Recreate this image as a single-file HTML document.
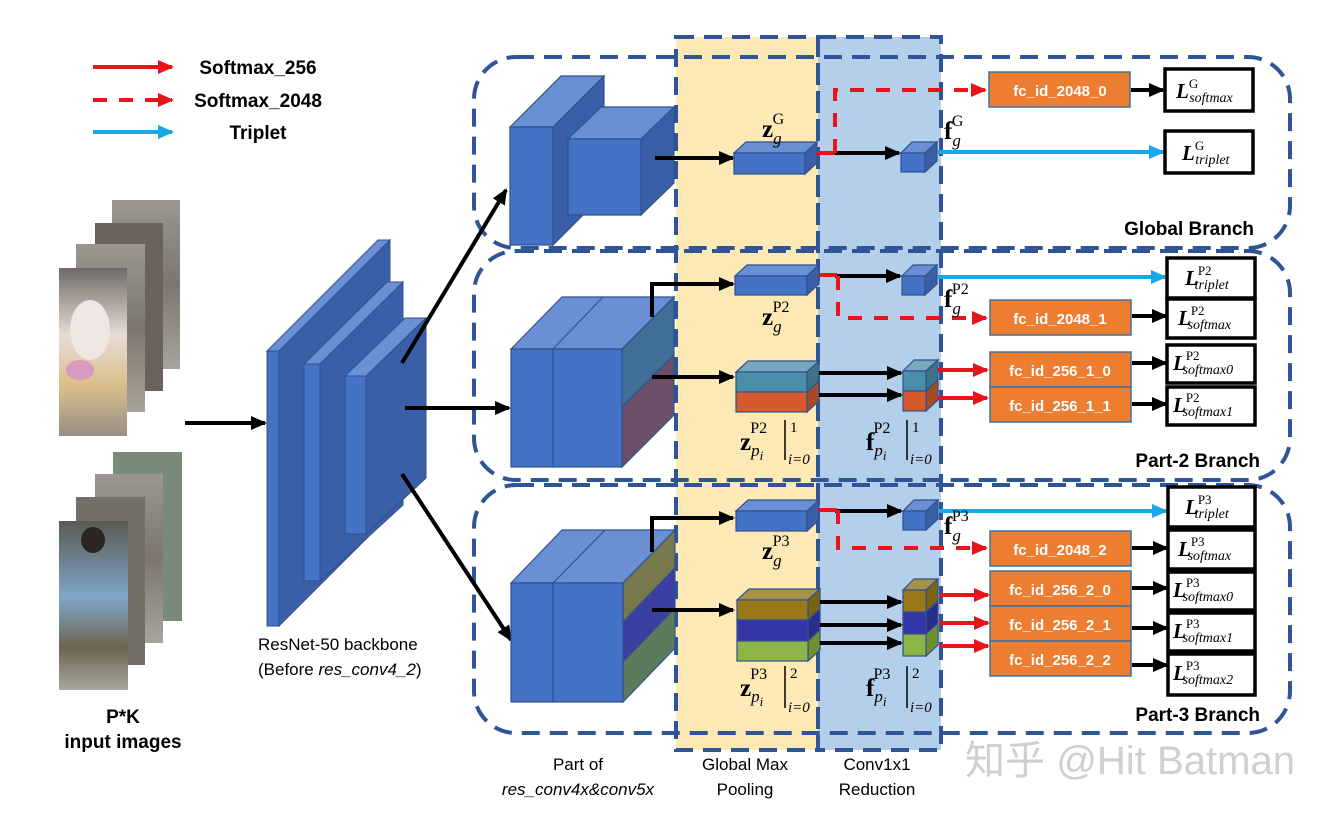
<!DOCTYPE html>
<html><head><meta charset="utf-8"><style>
html,body{margin:0;padding:0;background:#fff;}
svg{display:block;}
text{font-family:"Liberation Sans","Noto Sans CJK SC",sans-serif;}
.m{font-family:"Liberation Serif",serif;}
.lb{font-weight:bold;font-size:19px;fill:#000;}
.fc{font-weight:bold;font-size:15px;fill:#fff;text-anchor:middle;}
</style></head><body>
<svg width="1330" height="814" viewBox="0 0 1330 814" xmlns="http://www.w3.org/2000/svg">
<defs>
<marker id="ak" markerUnits="userSpaceOnUse" markerWidth="16" markerHeight="16" refX="14" refY="8" orient="auto"><path d="M0,1 L16,8 L0,15 z" fill="#000"/></marker>
<marker id="ar" markerUnits="userSpaceOnUse" markerWidth="16" markerHeight="16" refX="14" refY="8" orient="auto"><path d="M0,1 L16,8 L0,15 z" fill="#e8141b"/></marker>
<marker id="ac" markerUnits="userSpaceOnUse" markerWidth="16" markerHeight="16" refX="14" refY="8" orient="auto"><path d="M0,1 L16,8 L0,15 z" fill="#1aa7e6"/></marker>
<linearGradient id="p1" x1="0" y1="0" x2="0" y2="1"><stop offset="0" stop-color="#6e6a66"/><stop offset=".4" stop-color="#e8dcd6"/><stop offset=".7" stop-color="#d9c08a"/><stop offset="1" stop-color="#9a8e86"/></linearGradient>
<linearGradient id="p2" x1="0" y1="0" x2="0" y2="1"><stop offset="0" stop-color="#5a5a50"/><stop offset=".45" stop-color="#7fa6c9"/><stop offset=".75" stop-color="#6d6450"/><stop offset="1" stop-color="#a9a7a0"/></linearGradient>
<linearGradient id="pg" x1="0" y1="0" x2="0" y2="1"><stop offset="0" stop-color="#9b9690"/><stop offset=".5" stop-color="#7d7670"/><stop offset="1" stop-color="#a8a39c"/></linearGradient>
</defs>

<!-- legend -->
<line x1="93" y1="67" x2="172" y2="67" stroke="#e8141b" stroke-width="4" marker-end="url(#ar)"/>
<line x1="93" y1="100" x2="172" y2="100" stroke="#e8141b" stroke-width="4" stroke-dasharray="14 12" marker-end="url(#ar)"/>
<line x1="93" y1="132" x2="172" y2="132" stroke="#1aa7e6" stroke-width="4" marker-end="url(#ac)"/>
<text x="258" y="74" class="lb" text-anchor="middle" font-size="18">Softmax_256</text>
<text x="258" y="107" class="lb" text-anchor="middle" font-size="18">Softmax_2048</text>
<text x="258" y="139" class="lb" text-anchor="middle" font-size="18">Triplet</text>

<!-- photos -->
<rect x="112" y="200" width="68" height="169" fill="url(#pg)"/>
<rect x="95" y="223" width="68" height="168" fill="#6b625c"/>
<rect x="76" y="244" width="69" height="168" fill="url(#pg)"/>
<rect x="59" y="268" width="68" height="168" fill="url(#p1)"/>
<ellipse cx="90" cy="330" rx="20" ry="30" fill="#efe6e4"/>
<ellipse cx="80" cy="370" rx="14" ry="10" fill="#d99cc0"/>
<rect x="113" y="452" width="69" height="169" fill="#7a8a78"/>
<rect x="95" y="474" width="68" height="169" fill="url(#pg)"/>
<rect x="76" y="497" width="69" height="168" fill="#737069"/>
<rect x="59" y="521" width="69" height="169" fill="url(#p2)"/>
<ellipse cx="93" cy="540" rx="12" ry="13" fill="#2a2622"/>

<line x1="185" y1="423" x2="265" y2="423" stroke="#000" stroke-width="4" marker-end="url(#ak)"/>

<!-- backbone -->
<g stroke="#2f528f" stroke-width="1">
<polygon points="279,351 390,240 390,515 279,626" fill="#3a5fa6"/>
<polygon points="267,351 378,240 390,240 279,351" fill="#6a8fd4"/>
<rect x="267" y="351" width="12" height="275" fill="#4472c4"/>
<polygon points="320,364 403,282 403,505 320,581" fill="#3a5fa6"/>
<polygon points="304,364 387,282 403,282 320,364" fill="#6a8fd4"/>
<rect x="304" y="364" width="16" height="217" fill="#4472c4"/>
<polygon points="366,376 426,318 426,478 366,534" fill="#3a5fa6"/>
<polygon points="345,376 405,318 426,318 366,376" fill="#6a8fd4"/>
<rect x="345" y="376" width="21" height="158" fill="#4472c4"/>
</g>
<text x="258" y="650" font-size="17" fill="#000">ResNet-50 backbone</text>
<text x="258" y="675" font-size="17" fill="#000">(Before <tspan font-style="italic">res_conv4_2</tspan>)</text>
<text x="123" y="723" class="lb" font-size="17" text-anchor="middle">P*K</text>
<text x="123" y="748" class="lb" font-size="17" text-anchor="middle">input images</text>

<!-- columns -->
<rect x="676" y="37" width="142" height="713" fill="#fde9b6"/>
<rect x="818" y="37" width="123" height="713" fill="#b4cfea"/>

<!-- branch boxes -->
<g fill="none" stroke="#2f5597" stroke-width="4" stroke-dasharray="18 10">
<rect x="474" y="57" width="816" height="191" rx="42"/>
<rect x="474" y="251" width="816" height="229" rx="42"/>
<rect x="474" y="485" width="816" height="248" rx="42"/>
<rect x="676" y="37" width="142" height="713"/>
<rect x="818" y="37" width="123" height="713"/>
</g>

<!-- arrows from backbone -->
<line x1="402" y1="363" x2="506" y2="190" stroke="#000" stroke-width="4" marker-end="url(#ak)"/>
<line x1="405" y1="408" x2="509" y2="408" stroke="#000" stroke-width="4" marker-end="url(#ak)"/>
<line x1="402" y1="474" x2="511" y2="640" stroke="#000" stroke-width="4" marker-end="url(#ak)"/>

<!-- global blocks -->
<g stroke="#2f528f" stroke-width="1.2">
<polygon points="553,127 604,76 604,194 553,245" fill="#3a5fa6"/>
<polygon points="510,127 561,76 604,76 553,127" fill="#6a8fd4"/>
<rect x="510" y="127" width="43" height="118" fill="#4472c4"/>
<polygon points="641,139 674,107 674,183 641,215" fill="#3a5fa6"/>
<polygon points="568,139 601,107 674,107 641,139" fill="#6a8fd4"/>
<rect x="568" y="139" width="73" height="76" fill="#4472c4"/>
</g>
<line x1="655" y1="158" x2="733" y2="158" stroke="#000" stroke-width="4" marker-end="url(#ak)"/>

<!-- part-2 big block -->
<g stroke="#2f528f" stroke-width="1.2">
<polygon points="511,349 562,297 674,297 622,349" fill="#6a8fd4"/>
<polygon points="622,349 674,297 674,355 622,407" fill="#3f6f96"/>
<polygon points="622,407 674,355 674,415 622,467" fill="#6b4f68"/>
<rect x="511" y="349" width="42" height="118" fill="#4472c4"/>
<rect x="553" y="349" width="69" height="118" fill="#4472c4"/>
<line x1="553" y1="349" x2="603" y2="297"/>
</g>
<polyline points="652,317 652,284 733,284" fill="none" stroke="#000" stroke-width="4" marker-end="url(#ak)"/>
<line x1="652" y1="377" x2="733" y2="377" stroke="#000" stroke-width="4" marker-end="url(#ak)"/>

<!-- part-3 big block -->
<g stroke="#2f528f" stroke-width="1.2">
<polygon points="511,583 562,530 675,530 623,583" fill="#6a8fd4"/>
<polygon points="623,583 675,530 675,568 623,622" fill="#77784c"/>
<polygon points="623,622 675,568 675,608 623,662" fill="#3a3fa0"/>
<polygon points="623,662 675,608 675,648 623,702" fill="#5d7a5c"/>
<rect x="511" y="583" width="42" height="119" fill="#4472c4"/>
<rect x="553" y="583" width="70" height="119" fill="#4472c4"/>
<line x1="553" y1="583" x2="605" y2="530"/>
</g>
<polyline points="652,552 652,518 733,518" fill="none" stroke="#000" stroke-width="4" marker-end="url(#ak)"/>
<line x1="652" y1="610" x2="733" y2="610" stroke="#000" stroke-width="4" marker-end="url(#ak)"/>

<!-- pooled blocks -->
<g stroke="#2f528f" stroke-width="1.2">
<polygon points="734,153 746,142 817,142 805,153" fill="#6a8fd4"/>
<polygon points="805,153 817,142 817,163 805,174" fill="#3a5fa6"/>
<rect x="734" y="153" width="71" height="21" fill="#4472c4"/>
<polygon points="735,276 747,265 819,265 807,276" fill="#6a8fd4"/>
<polygon points="807,276 819,265 819,284 807,295" fill="#3a5fa6"/>
<rect x="735" y="276" width="72" height="19" fill="#4472c4"/>
<polygon points="736,511 748,500 819,500 807,511" fill="#6a8fd4"/>
<polygon points="807,511 819,500 819,520 807,531" fill="#3a5fa6"/>
<rect x="736" y="511" width="71" height="20" fill="#4472c4"/>
<polygon points="736,372 748,361 819,361 807,372" fill="#7aa7bd"/>
<polygon points="807,372 819,361 819,381 807,392" fill="#3e7386"/>
<polygon points="807,392 819,381 819,401 807,412" fill="#a84a22"/>
<rect x="736" y="372" width="71" height="20" fill="#4a8ea8"/>
<rect x="736" y="392" width="71" height="20" fill="#d65a2c"/>
<polygon points="737,600 749,589 820,589 808,600" fill="#a6904a"/>
<polygon points="808,600 820,589 820,609 808,620" fill="#7a6412"/>
<polygon points="808,620 820,609 820,630 808,641" fill="#2c2c8a"/>
<polygon points="808,641 820,630 820,650 808,661" fill="#6e9030"/>
<rect x="737" y="600" width="71" height="20" fill="#9a7a18"/>
<rect x="737" y="620" width="71" height="21" fill="#3535a8"/>
<rect x="737" y="641" width="71" height="20" fill="#8db446"/>
<polygon points="901,153 912,142 937,142 925,153" fill="#6a8fd4"/>
<polygon points="925,153 937,142 937,161 925,172" fill="#3a5fa6"/>
<rect x="901" y="153" width="24" height="19" fill="#4472c4"/>
<polygon points="902,276 913,265 937,265 925,276" fill="#6a8fd4"/>
<polygon points="925,276 937,265 937,284 925,295" fill="#3a5fa6"/>
<rect x="902" y="276" width="23" height="19" fill="#4472c4"/>
<polygon points="903,511 914,500 938,500 926,511" fill="#6a8fd4"/>
<polygon points="926,511 938,500 938,519 926,530" fill="#3a5fa6"/>
<rect x="903" y="511" width="23" height="19" fill="#4472c4"/>
<polygon points="903,371 914,360 938,360 926,371" fill="#7aa7bd"/>
<polygon points="926,371 938,360 938,380 926,391" fill="#3e7386"/>
<polygon points="926,391 938,380 938,400 926,411" fill="#a84a22"/>
<rect x="903" y="371" width="23" height="20" fill="#4a8ea8"/>
<rect x="903" y="391" width="23" height="20" fill="#d65a2c"/>
<polygon points="903,590 914,579 938,579 926,590" fill="#a6904a"/>
<polygon points="926,590 938,579 938,601 926,612" fill="#7a6412"/>
<polygon points="926,612 938,601 938,623 926,634" fill="#2c2c8a"/>
<polygon points="926,634 938,623 938,645 926,656" fill="#6e9030"/>
<rect x="903" y="590" width="23" height="22" fill="#9a7a18"/>
<rect x="903" y="612" width="23" height="22" fill="#3535a8"/>
<rect x="903" y="634" width="23" height="22" fill="#8db446"/>
</g>

<!-- conv arrows -->
<g stroke="#000" stroke-width="4" marker-end="url(#ak)">
<line x1="833" y1="153" x2="899" y2="153"/>
<line x1="835" y1="276" x2="900" y2="276"/>
<line x1="835" y1="511" x2="901" y2="511"/>
<line x1="819" y1="373" x2="901" y2="373"/>
<line x1="819" y1="395" x2="901" y2="395"/>
<line x1="820" y1="602" x2="901" y2="602"/>
<line x1="820" y1="625" x2="901" y2="625"/>
<line x1="820" y1="643" x2="901" y2="643"/>
</g>
<g stroke="#e8141b" stroke-width="4">
<line x1="817" y1="153" x2="835" y2="153"/>
<line x1="819" y1="275" x2="837" y2="275"/>
<line x1="819" y1="510" x2="837" y2="510"/>
</g>
<g fill="none" stroke="#e8141b" stroke-width="4" stroke-dasharray="14 12">
<polyline points="835,153 835,90 985,90" marker-end="url(#ar)"/>
<polyline points="838,276 838,318 986,318" marker-end="url(#ar)"/>
<polyline points="838,510 838,548 986,548" marker-end="url(#ar)"/>
</g>
<g stroke="#e8141b" stroke-width="4" marker-end="url(#ar)">
<line x1="938" y1="370" x2="987" y2="370"/>
<line x1="938" y1="398" x2="987" y2="398"/>
<line x1="940" y1="595" x2="988" y2="595"/>
<line x1="940" y1="623" x2="988" y2="623"/>
<line x1="940" y1="646" x2="988" y2="646"/>
</g>
<g stroke="#1aa7e6" stroke-width="4" marker-end="url(#ac)">
<line x1="938" y1="152" x2="1163" y2="152"/>
<line x1="938" y1="277" x2="1165" y2="277"/>
<line x1="938" y1="511" x2="1166" y2="511"/>
</g>

<!-- fc boxes -->
<g fill="#ed7d31" stroke="#41719c" stroke-width="1.5">
<rect x="989" y="72" width="141" height="35"/>
<rect x="990" y="300" width="141" height="35"/>
<rect x="990" y="352" width="141" height="35"/>
<rect x="990" y="387" width="141" height="35"/>
<rect x="990" y="531" width="141" height="35"/>
<rect x="990" y="571" width="141" height="35"/>
<rect x="990" y="606" width="141" height="35"/>
<rect x="990" y="641" width="141" height="35"/>
</g>
<text x="1060" y="96" class="fc">fc_id_2048_0</text>
<text x="1060" y="324" class="fc">fc_id_2048_1</text>
<text x="1060" y="376" class="fc">fc_id_256_1_0</text>
<text x="1060" y="411" class="fc">fc_id_256_1_1</text>
<text x="1060" y="555" class="fc">fc_id_2048_2</text>
<text x="1060" y="595" class="fc">fc_id_256_2_0</text>
<text x="1060" y="630" class="fc">fc_id_256_2_1</text>
<text x="1060" y="665" class="fc">fc_id_256_2_2</text>

<g stroke="#000" stroke-width="4" marker-end="url(#ak)">
<line x1="1131" y1="90" x2="1163" y2="90"/>
<line x1="1132" y1="316" x2="1166" y2="316"/>
<line x1="1132" y1="363" x2="1166" y2="363"/>
<line x1="1132" y1="404" x2="1166" y2="404"/>
<line x1="1132" y1="548" x2="1167" y2="548"/>
<line x1="1132" y1="588" x2="1167" y2="588"/>
<line x1="1132" y1="628" x2="1167" y2="628"/>
<line x1="1132" y1="665" x2="1167" y2="665"/>
</g>

<!-- loss boxes -->
<g fill="#fff" stroke="#000" stroke-width="3.5">
<rect x="1165" y="69" width="88" height="42"/>
<rect x="1165" y="131" width="88" height="42"/>
<rect x="1167" y="258" width="88" height="40"/>
<rect x="1167" y="299" width="88" height="39"/>
<rect x="1167" y="345" width="88" height="38"/>
<rect x="1167" y="387" width="88" height="38"/>
<rect x="1168" y="487" width="87" height="40"/>
<rect x="1168" y="530" width="87" height="39"/>
<rect x="1168" y="572" width="87" height="38"/>
<rect x="1168" y="613" width="87" height="38"/>
<rect x="1168" y="654" width="87" height="41"/>
</g>
<g fill="#000">
<text x="1176" y="98" class="m" font-size="21" font-style="italic" font-weight="bold">L<tspan font-size="13" font-weight="normal" font-style="normal" dy="-10">G</tspan><tspan font-size="14" font-weight="normal" dx="-9" dy="14">softmax</tspan></text>
<text x="1182" y="160" class="m" font-size="21" font-style="italic" font-weight="bold">L<tspan font-size="13" font-weight="normal" font-style="normal" dy="-10">G</tspan><tspan font-size="14" font-weight="normal" dx="-9" dy="14">triplet</tspan></text>
<text x="1185" y="285" class="m" font-size="21" font-style="italic" font-weight="bold">L<tspan font-size="13" font-weight="normal" font-style="normal" dy="-10">P2</tspan><tspan font-size="14" font-weight="normal" dx="-17" dy="14">triplet</tspan></text>
<text x="1178" y="325" class="m" font-size="21" font-style="italic" font-weight="bold">L<tspan font-size="13" font-weight="normal" font-style="normal" dy="-10">P2</tspan><tspan font-size="14" font-weight="normal" dx="-17" dy="14">softmax</tspan></text>
<text x="1173" y="370" class="m" font-size="21" font-style="italic" font-weight="bold">L<tspan font-size="13" font-weight="normal" font-style="normal" dy="-10">P2</tspan><tspan font-size="14" font-weight="normal" dx="-17" dy="14">softmax0</tspan></text>
<text x="1173" y="412" class="m" font-size="21" font-style="italic" font-weight="bold">L<tspan font-size="13" font-weight="normal" font-style="normal" dy="-10">P2</tspan><tspan font-size="14" font-weight="normal" dx="-17" dy="14">softmax1</tspan></text>
<text x="1185" y="514" class="m" font-size="21" font-style="italic" font-weight="bold">L<tspan font-size="13" font-weight="normal" font-style="normal" dy="-10">P3</tspan><tspan font-size="14" font-weight="normal" dx="-17" dy="14">triplet</tspan></text>
<text x="1178" y="556" class="m" font-size="21" font-style="italic" font-weight="bold">L<tspan font-size="13" font-weight="normal" font-style="normal" dy="-10">P3</tspan><tspan font-size="14" font-weight="normal" dx="-17" dy="14">softmax</tspan></text>
<text x="1173" y="597" class="m" font-size="21" font-style="italic" font-weight="bold">L<tspan font-size="13" font-weight="normal" font-style="normal" dy="-10">P3</tspan><tspan font-size="14" font-weight="normal" dx="-17" dy="14">softmax0</tspan></text>
<text x="1173" y="638" class="m" font-size="21" font-style="italic" font-weight="bold">L<tspan font-size="13" font-weight="normal" font-style="normal" dy="-10">P3</tspan><tspan font-size="14" font-weight="normal" dx="-17" dy="14">softmax1</tspan></text>
<text x="1173" y="680" class="m" font-size="21" font-style="italic" font-weight="bold">L<tspan font-size="13" font-weight="normal" font-style="normal" dy="-10">P3</tspan><tspan font-size="14" font-weight="normal" dx="-17" dy="14">softmax2</tspan></text>
</g>

<!-- math labels -->
<g fill="#000">
<text x="762" y="137" class="m" font-size="25" font-weight="bold">z<tspan font-size="17" font-weight="normal" font-style="italic" dy="7">g</tspan><tspan font-size="16" font-weight="normal" dx="-9" dy="-20">G</tspan></text>
<text x="762" y="325" class="m" font-size="25" font-weight="bold">z<tspan font-size="17" font-weight="normal" font-style="italic" dy="7">g</tspan><tspan font-size="16" font-weight="normal" dx="-9" dy="-20">P2</tspan></text>
<text x="762" y="559" class="m" font-size="25" font-weight="bold">z<tspan font-size="17" font-weight="normal" font-style="italic" dy="7">g</tspan><tspan font-size="16" font-weight="normal" dx="-9" dy="-20">P3</tspan></text>
<text x="944" y="139" class="m" font-size="25" font-weight="bold">f<tspan font-size="17" font-weight="normal" font-style="italic" dy="7">g</tspan><tspan font-size="16" font-weight="normal" dx="-9" dy="-20">G</tspan></text>
<text x="944" y="307" class="m" font-size="25" font-weight="bold">f<tspan font-size="17" font-weight="normal" font-style="italic" dy="7">g</tspan><tspan font-size="16" font-weight="normal" dx="-9" dy="-20">P2</tspan></text>
<text x="944" y="534" class="m" font-size="25" font-weight="bold">f<tspan font-size="17" font-weight="normal" font-style="italic" dy="7">g</tspan><tspan font-size="16" font-weight="normal" dx="-9" dy="-20">P3</tspan></text>

<text x="740" y="450" class="m" font-size="25" font-weight="bold">z<tspan font-size="17" font-weight="normal" font-style="italic" dy="6">p</tspan><tspan font-size="13" font-weight="normal" font-style="italic" dy="4">i</tspan><tspan font-size="16" font-weight="normal" dx="-13" dy="-27">P2</tspan></text>
<line x1="785" y1="420" x2="785" y2="460" stroke="#000" stroke-width="1.5"/>
<text x="790" y="432" class="m" font-size="15">1</text>
<text x="788" y="464" class="m" font-size="15" font-style="italic">i=0</text>
<text x="866" y="450" class="m" font-size="25" font-weight="bold">f<tspan font-size="17" font-weight="normal" font-style="italic" dy="6">p</tspan><tspan font-size="13" font-weight="normal" font-style="italic" dy="4">i</tspan><tspan font-size="16" font-weight="normal" dx="-13" dy="-27">P2</tspan></text>
<line x1="907" y1="420" x2="907" y2="460" stroke="#000" stroke-width="1.5"/>
<text x="912" y="432" class="m" font-size="15">1</text>
<text x="910" y="464" class="m" font-size="15" font-style="italic">i=0</text>

<text x="740" y="696" class="m" font-size="25" font-weight="bold">z<tspan font-size="17" font-weight="normal" font-style="italic" dy="6">p</tspan><tspan font-size="13" font-weight="normal" font-style="italic" dy="4">i</tspan><tspan font-size="16" font-weight="normal" dx="-13" dy="-27">P3</tspan></text>
<line x1="785" y1="666" x2="785" y2="708" stroke="#000" stroke-width="1.5"/>
<text x="790" y="678" class="m" font-size="15">2</text>
<text x="788" y="712" class="m" font-size="15" font-style="italic">i=0</text>
<text x="866" y="696" class="m" font-size="25" font-weight="bold">f<tspan font-size="17" font-weight="normal" font-style="italic" dy="6">p</tspan><tspan font-size="13" font-weight="normal" font-style="italic" dy="4">i</tspan><tspan font-size="16" font-weight="normal" dx="-13" dy="-27">P3</tspan></text>
<line x1="907" y1="666" x2="907" y2="708" stroke="#000" stroke-width="1.5"/>
<text x="912" y="678" class="m" font-size="15">2</text>
<text x="910" y="712" class="m" font-size="15" font-style="italic">i=0</text>
</g>

<!-- branch titles -->
<text x="1254" y="235" class="lb" font-size="21" text-anchor="end">Global Branch</text>
<text x="1260" y="467" class="lb" font-size="21" text-anchor="end">Part-2 Branch</text>
<text x="1260" y="721" class="lb" font-size="21" text-anchor="end">Part-3 Branch</text>

<!-- bottom labels -->
<g font-size="17" fill="#000" text-anchor="middle">
<text x="578" y="770">Part of</text>
<text x="578" y="795" font-style="italic">res_conv4x&amp;conv5x</text>
<text x="745" y="770">Global Max</text>
<text x="745" y="795">Pooling</text>
<text x="877" y="770">Conv1x1</text>
<text x="877" y="795">Reduction</text>
</g>
<text x="965" y="774" font-size="40" fill="#cfcfcf" textLength="330" lengthAdjust="spacingAndGlyphs">知乎 @Hit Batman</text>
</svg>
</body></html>
